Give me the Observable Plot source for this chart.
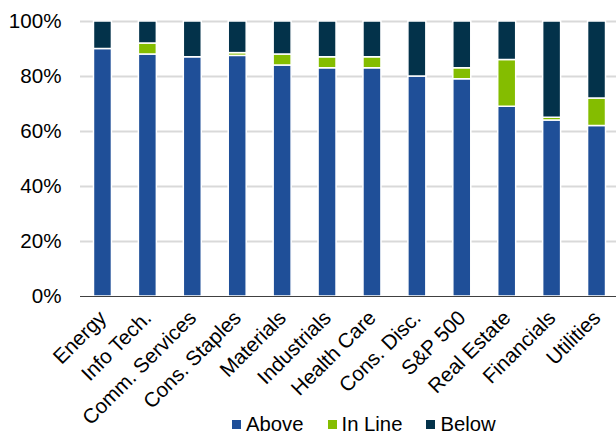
<!DOCTYPE html>
<html>
<head>
<meta charset="utf-8">
<script src="https://cdn.jsdelivr.net/npm/d3@7"></script>
<script src="https://cdn.jsdelivr.net/npm/@observablehq/plot@0.6"></script>
<style>
  html, body { margin: 0; padding: 0; background: #fff; }
  #wrap { position: relative; width: 616px; height: 436px; overflow: hidden; font-family: "Liberation Sans", Arial, sans-serif; }
  #legend { position: absolute; top: 415px; left: 232px; display: flex; gap: 24px; font-size: 20.3px; line-height: 18px; height: 18px; color: #000; white-space: nowrap; }
  #legend span.item { display: flex; align-items: center; }
  #legend span.sw { display: inline-block; width: 9px; height: 9px; margin-right: 5px; }
</style>
</head>
<body>
<div id="wrap"><div id="chart"></div><div id="legend"></div></div>
<script>
const categories = ["Energy","Info Tech.","Comm. Services","Cons. Staples","Materials","Industrials","Health Care","Cons. Disc.","S&P 500","Real Estate","Financials","Utilities"];
const above  = [90, 88, 87, 87.5, 84, 83, 83, 80, 79, 69, 64, 62];
const inLine = [0, 4, 0, 1, 4, 4, 4, 0, 4, 17, 1, 10];
const below  = [10, 8, 13, 11.5, 12, 13, 13, 20, 17, 14, 35, 28];
const seriesNames = ["Above", "In Line", "Below"];
const seriesColors = ["#1f4f98", "#84bd00", "#03324a"];
const yTicks = [0, 20, 40, 60, 80, 100];

const seriesValues = [above, inLine, below];
const rows = [];
categories.forEach((c, i) => {
  seriesNames.forEach((s, j) => rows.push({category: c, series: s, value: seriesValues[j][i]}));
});

const chart = Plot.plot({
  width: 616,
  height: 436,
  marginLeft: 80,
  marginRight: -3,
  marginTop: 21,
  marginBottom: 140,
  style: {fontFamily: "'Liberation Sans', Arial, sans-serif", fontSize: "20.6px", color: "#000", background: "#fff", overflow: "visible"},
  x: {domain: categories, paddingInner: 0.6, paddingOuter: 0.3, round: false, label: null},
  y: {domain: [0, 100], label: null},
  color: {domain: seriesNames, range: seriesColors},
  marks: [
    Plot.ruleY(yTicks.filter(d => d > 0), {stroke: "#d9d9d9", strokeWidth: 2}),
    Plot.barY(rows, {x: "category", y: "value", fill: "series", stroke: "#fff", strokeWidth: 1.5}),
    Plot.ruleY([0], {stroke: "#404040", strokeWidth: 1}),
    Plot.axisY({ticks: yTicks, tickFormat: d => d + "%", tickSize: 0, tickPadding: 19, fontSize: 20.6}),
    Plot.axisX({tickSize: 0, tickRotate: -45, tickPadding: 18, fontSize: 20.6})
  ]
});
document.getElementById("chart").appendChild(chart);

const legend = document.getElementById("legend");
seriesNames.forEach((s, j) => {
  const item = document.createElement("span");
  item.className = "item";
  const sw = document.createElement("span");
  sw.className = "sw";
  sw.style.background = seriesColors[j];
  item.appendChild(sw);
  item.appendChild(document.createTextNode(s));
  legend.appendChild(item);
});
</script>
</body>
</html>
